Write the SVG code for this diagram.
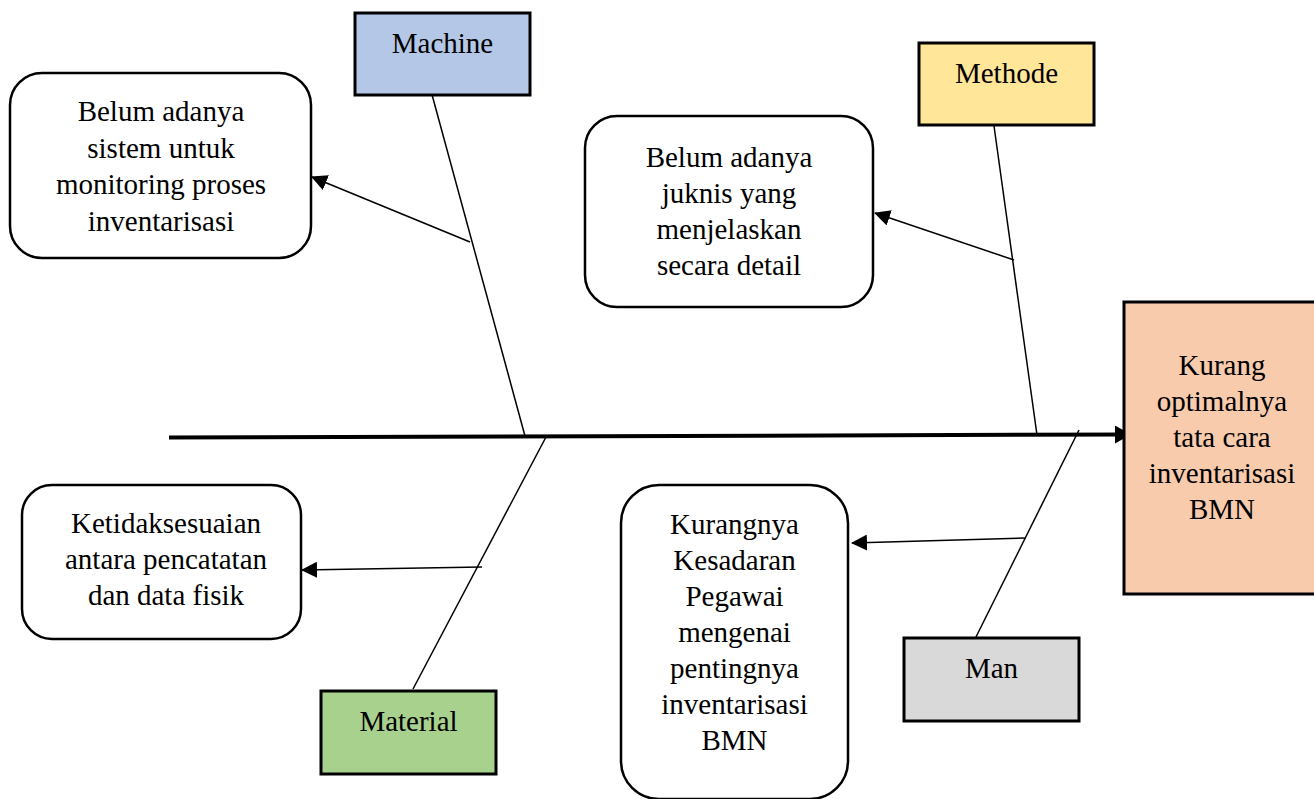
<svg xmlns="http://www.w3.org/2000/svg" width="1314" height="799" viewBox="0 0 1314 799">
<style>
text{font-family:"Liberation Serif","Times New Roman",serif;font-size:29px;fill:#000;text-anchor:middle}
.cat{stroke:#000;stroke-width:3}
.eff{fill:#fff;stroke:#000;stroke-width:2.5}
.bone{stroke:#000;stroke-width:1.5;fill:none}
.sub{stroke:#000;stroke-width:1.5;fill:none;marker-end:url(#ah)}
</style>
<defs>
<marker id="ah" markerUnits="userSpaceOnUse" markerWidth="16" markerHeight="16" refX="15" refY="8" orient="auto">
<path d="M0,0 L16,8 L0,16 Z" fill="#000"/>
</marker>
<marker id="ahBig" markerUnits="userSpaceOnUse" markerWidth="16" markerHeight="18" refX="15" refY="9" orient="auto">
<path d="M0,0 L16,9 L0,18 Z" fill="#000"/>
</marker>
</defs>
<g id="connectors">
<line x1="169" y1="437.5" x2="1130" y2="434.5" stroke="#000" stroke-width="4" marker-end="url(#ahBig)"/>
<line class="bone" x1="431" y1="91" x2="525" y2="436"/>
<line class="bone" x1="994" y1="126" x2="1037" y2="435"/>
<line class="bone" x1="546" y1="437" x2="413" y2="689"/>
<line class="bone" x1="1079" y1="430" x2="973" y2="643"/>
<line class="sub" x1="470" y1="242" x2="312" y2="177"/>
<line class="sub" x1="1014" y1="260" x2="875" y2="213"/>
<line class="sub" x1="482" y1="567" x2="302" y2="570"/>
<line class="sub" x1="1026" y1="538" x2="852" y2="543"/>
</g>
<g id="machine">
<rect class="cat" x="355" y="13" width="175" height="82" fill="#B4C7E7"/>
<text x="442.5" y="53">Machine</text>
</g>
<g id="methode">
<rect class="cat" x="919" y="43" width="175" height="82" fill="#FFE699"/>
<text x="1006.5" y="83">Methode</text>
</g>
<g id="material">
<rect class="cat" x="321" y="691" width="175" height="83" fill="#A9D18E"/>
<text x="408.5" y="731">Material</text>
</g>
<g id="man">
<rect class="cat" x="904" y="638" width="175" height="83" fill="#D9D9D9"/>
<text x="991.5" y="678">Man</text>
</g>
<g id="effect">
<rect class="cat" x="1124" y="302" width="196" height="292" fill="#F8CBAD"/>
<text x="1222" y="375">Kurang</text>
<text x="1222" y="411">optimalnya</text>
<text x="1222" y="447">tata cara</text>
<text x="1222" y="483">inventarisasi</text>
<text x="1222" y="519">BMN</text>
</g>
<g id="cause-machine">
<rect class="eff" x="10" y="73" width="301" height="185" rx="32"/>
<text x="161" y="121">Belum adanya</text>
<text x="161" y="157.5">sistem untuk</text>
<text x="161" y="194">monitoring proses</text>
<text x="161" y="230.5">inventarisasi</text>
</g>
<g id="cause-methode">
<rect class="eff" x="585" y="116" width="288" height="191" rx="32"/>
<text x="729" y="167">Belum adanya</text>
<text x="729" y="203">juknis yang</text>
<text x="729" y="239">menjelaskan</text>
<text x="729" y="275">secara detail</text>
</g>
<g id="cause-material">
<rect class="eff" x="22" y="485" width="279" height="154" rx="30"/>
<text x="166" y="533">Ketidaksesuaian</text>
<text x="166" y="569">antara pencatatan</text>
<text x="166" y="605">dan data fisik</text>
</g>
<g id="cause-man">
<rect class="eff" x="621" y="485" width="227" height="314" rx="38"/>
<text x="734.5" y="534">Kurangnya</text>
<text x="734.5" y="570">Kesadaran</text>
<text x="734.5" y="606">Pegawai</text>
<text x="734.5" y="642">mengenai</text>
<text x="734.5" y="678">pentingnya</text>
<text x="734.5" y="714">inventarisasi</text>
<text x="734.5" y="750">BMN</text>
</g>
</svg>
